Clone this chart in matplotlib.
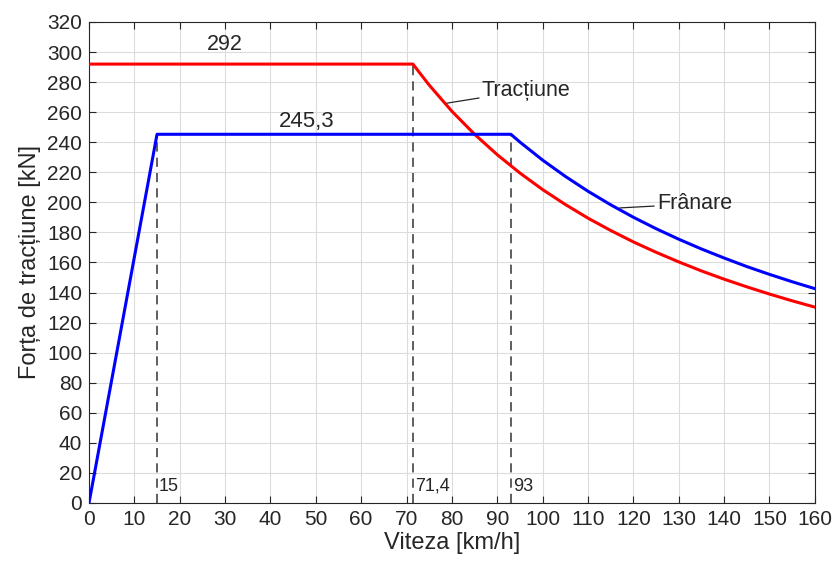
import matplotlib
matplotlib.use('Agg')
import matplotlib.pyplot as plt

# ── Data ──────────────────────────────────────────────────────────
v_trac = [0, 71.4, 75, 80, 85, 90, 95, 100, 105, 110, 115, 120, 125,
          130, 135, 140, 145, 150, 155, 160]
f_trac = [292, 292, 278.0, 260.6, 245.3, 231.7, 219.5, 208.5, 198.6, 189.5,
          181.3, 173.7, 166.8, 160.4, 154.4, 148.9, 143.8, 139.0, 134.5, 130.3]

v_fran = [0, 15, 93, 95, 100, 105, 110, 115, 120, 125, 130, 135, 140,
          145, 150, 155, 160]
f_fran = [0, 245.3, 245.3, 240.1, 228.1, 217.3, 207.4, 198.4, 190.1, 182.5,
          175.5, 169.0, 163.0, 157.3, 152.1, 147.2, 142.6]

v_marks = [15, 71.4, 93]
f_marks = [245.3, 292, 245.3]
mark_labels = ['15', '71,4', '93']

plt.rcParams['font.family'] = ['Liberation Sans', 'DejaVu Sans']
TXT = '#262626'

fig = plt.figure(figsize=(8.34, 5.67), dpi=100)
ax = fig.add_axes([0.1067, 0.1129, 0.8703, 0.8483])

ax.plot(v_trac, f_trac, color='#ff0000', lw=2.2, zorder=3)
ax.plot(v_fran, f_fran, color='#0000ff', lw=2.2, zorder=3)

for v, f, lab in zip(v_marks, f_marks, mark_labels):
    ax.plot([v, v], [0, f], color='#333333', lw=1.1, ls=(0, (6, 4)), zorder=2)
    ax.text(v + 0.4, 11, lab, fontsize=13, color=TXT, ha='left', va='center')

ax.text(30, 305, '292', fontsize=15.5, color=TXT, ha='center', va='center')
ax.text(48, 253.5, '245,3', fontsize=16, color=TXT, ha='center', va='center')

ax.annotate('Tracțiune', xy=(78.9, 266), xytext=(86.6, 274.5),
            fontsize=15.5, color=TXT, va='center', ha='left',
            arrowprops=dict(arrowstyle='-', color=TXT, lw=0.9,
                            shrinkA=0, shrinkB=0))
ax.annotate('Frânare', xy=(117.0, 196.3), xytext=(125.2, 199.0),
            fontsize=15.5, color=TXT, va='center', ha='left',
            arrowprops=dict(arrowstyle='-', color=TXT, lw=0.9,
                            shrinkA=0, shrinkB=0))

ax.set_xlim(0, 160)
ax.set_ylim(0, 320)
ax.set_xticks(range(0, 161, 10))
ax.set_yticks(range(0, 321, 20))
ax.tick_params(direction='in', top=True, right=True, length=5, width=0.8,
               labelsize=15, colors=TXT, pad=5)
for s in ax.spines.values():
    s.set_color(TXT)
    s.set_linewidth(0.8)
ax.grid(True, color='#dcdcdc', lw=0.8)
ax.set_axisbelow(True)

ax.set_xlabel('Viteza [km/h]', fontsize=17, color=TXT, labelpad=2)
ax.set_ylabel('Forța de tracțiune [kN]', fontsize=17, color=TXT, labelpad=4)

fig.savefig('out.png', dpi=100, facecolor='white')
